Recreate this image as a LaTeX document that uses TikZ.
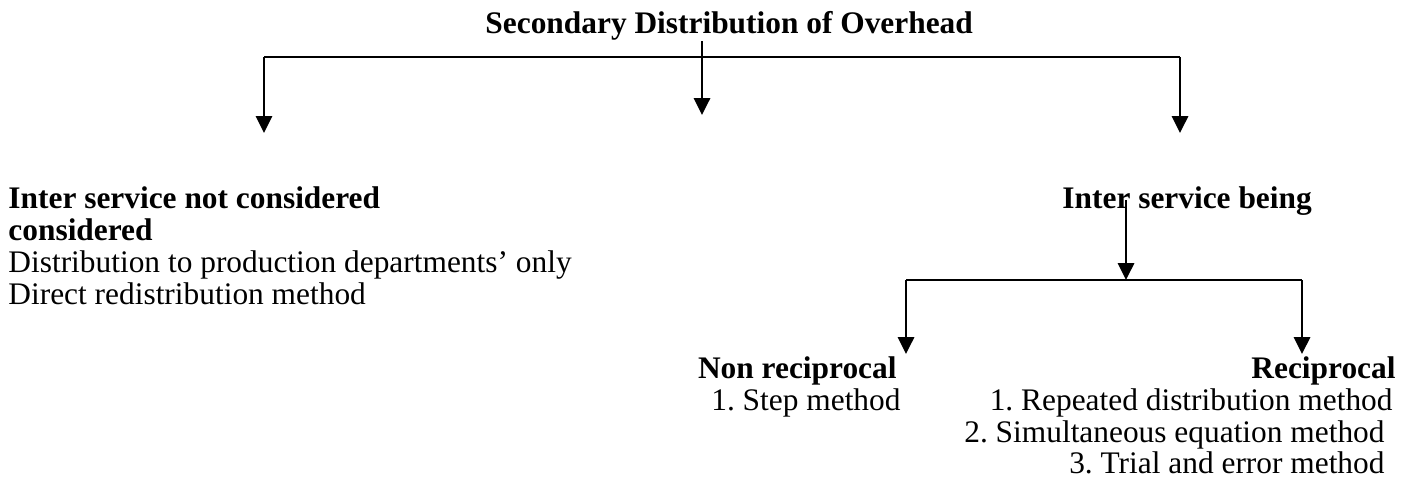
\documentclass[tikz,border=0pt]{standalone}
\usepackage{fontspec}
\setmainfont{Liberation Serif}
\usetikzlibrary{arrows.meta, positioning}
\frenchspacing

\begin{document}
\begin{tikzpicture}[x=0.0154cm, y=-0.0154cm,
			head/.style={font=\fontsize{13.75}{14}\selectfont\bfseries, inner sep=0pt},
			item/.style={font=\fontsize{13.75}{14}\selectfont, inner sep=0pt},
			bus/.style={line width=1pt},
			link/.style={line width=1pt, -{Triangle[length=0.26cm, width=0.25cm]}}
			]
			\useasboundingbox (0,0) rectangle (1402,478);
			
			\node [head, anchor=base west](sec) at (485,33) {Secondary Distribution of Overhead};
			
			\node [head, anchor=base west](notc) at (8,208) {Inter service not considered};
			\node [head, anchor=base west](notc2) at (8,240) {considered};
			\node [item, anchor=base west](prod) at (8,272) {Distribution to production departments’ only};
			\node [item, anchor=base west](direct) at (8,304) {Direct redistribution method};
			
			\node [head, anchor=base west](being) at (1062,208) {Inter service being};
			
			\node [head, anchor=base east](nonrec) at (897,378) {Non reciprocal};
			\node [item, anchor=base east](step1) at (901,410) {1. Step method};
			
			\node [head, anchor=base east](rec) at (1396,378) {Reciprocal};
			\node [item, anchor=base east](rec1) at (1393,410) {1. Repeated distribution method};
			\node [item, anchor=base east](rec2) at (1385,442) {2. Simultaneous equation method};
			\node [item, anchor=base east](rec3) at (1385,473) {3. Trial and error method};
			
			\coordinate (busL) at (264,57);
			\coordinate (busR) at (1180,57);
			\coordinate (topmid) at (702,41);
			\coordinate (tipL) at (264,133);
			\coordinate (tipM) at (702,115);
			\coordinate (tipR) at (1180,133);
			
			\coordinate (subtop) at (1126,200);
			\coordinate (subL) at (906,280);
			\coordinate (subM) at (1126,280);
			\coordinate (subR) at (1302,280);
			\coordinate (tipNR) at (906,354);
			\coordinate (tipRC) at (1302,354);
			
			\draw[bus] (busL) -- (busR);
			\draw[link] (topmid) -- (tipM);
			\draw[link] (busL) -- (tipL);
			\draw[link] (busR) -- (tipR);
			
			\draw[link] (subtop) -- (subM);
			\draw[bus] (subL) -- (subR);
			\draw[link] (subL) -- (tipNR);
			\draw[link] (subR) -- (tipRC);
		\end{tikzpicture}
\end{document}
